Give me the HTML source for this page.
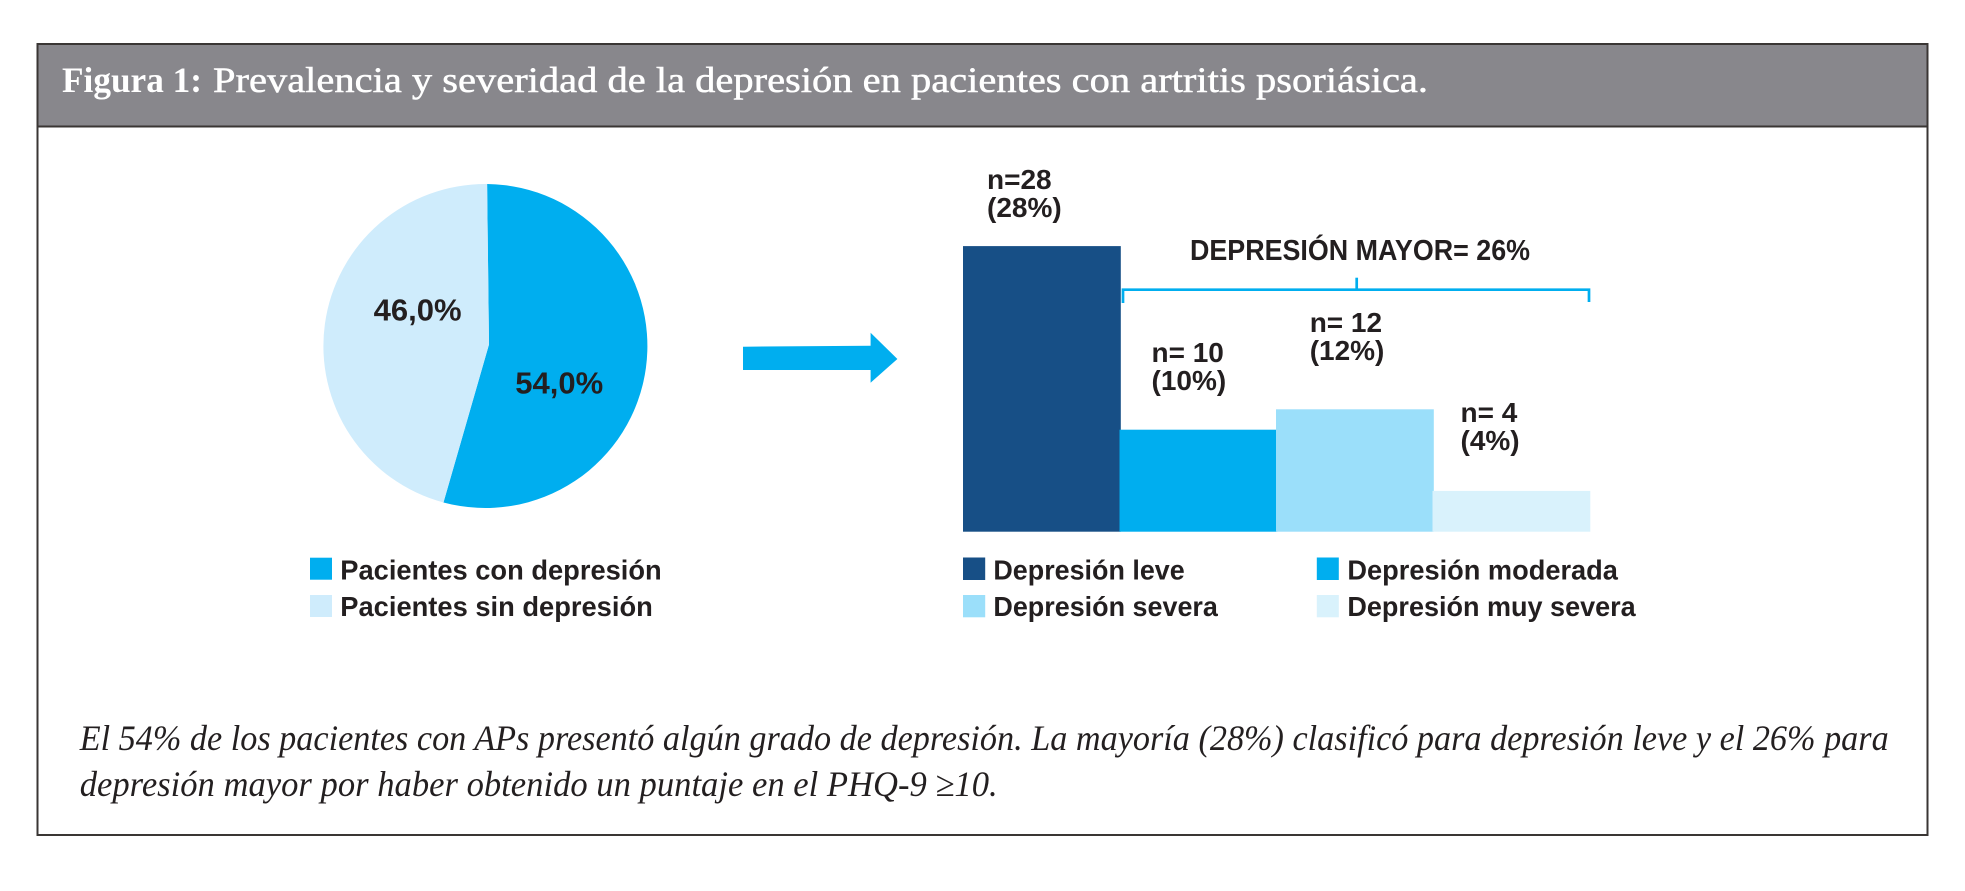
<!DOCTYPE html>
<html lang="es">
<head>
<meta charset="utf-8">
<title>Figura 1</title>
<style>
html,body{margin:0;padding:0;background:#fff;}
svg{display:block;}
.sans{font-family:"Liberation Sans",sans-serif;font-weight:700;fill:#231f20;}
.serif{font-family:"Liberation Serif",serif;}
</style>
</head>
<body>
<svg id="figure" xmlns="http://www.w3.org/2000/svg" width="1965" height="891" viewBox="0 0 1965 891">
  <rect x="37.5" y="44" width="1890" height="791" fill="#fff" stroke="#3a3634" stroke-width="2"/>
  <rect x="37.5" y="44" width="1890" height="82.5" fill="#88878c" stroke="#3a3634" stroke-width="2"/>
  <text class="serif" x="62" y="92" font-size="36" font-weight="700" fill="#fff" textLength="140" lengthAdjust="spacingAndGlyphs">Figura 1:</text>
  <text class="serif" x="213" y="92" font-size="36" fill="#fff" stroke="#fff" stroke-width="0.5" textLength="1215" lengthAdjust="spacingAndGlyphs">Prevalencia y severidad de la depresión en pacientes con artritis psoriásica.</text>

  <g id="pie"></g>
  <polygon points="743,346.7 870.6,345.7 870.6,332.7 897.4,359 870.6,382.7 870.6,370 743,370" fill="#00aeef"/>
  <g id="bars"></g>

  <g fill="none" stroke="#00aeef" stroke-width="2.7">
    <path d="M1123,303 V289.7 H1589 V302"/>
    <path d="M1356.7,277.7 V289.7"/>
  </g>
  <text class="sans" x="1190" y="260" font-size="29" textLength="340" lengthAdjust="spacingAndGlyphs">DEPRESIÓN MAYOR= 26%</text>

  <g>
    <g>
      <rect x="310" y="557.7" width="22" height="22" fill="#00aeef"/>
      <text class="sans" x="340.3" y="579.3" font-size="28" textLength="321.4" lengthAdjust="spacingAndGlyphs">Pacientes con depresión</text>
    </g>
    <g>
      <rect x="310" y="595" width="22" height="22" fill="#cfecfc"/>
      <text class="sans" x="340.3" y="616" font-size="28" textLength="312.5" lengthAdjust="spacingAndGlyphs">Pacientes sin depresión</text>
    </g>
  </g>

  <g>
    <g>
      <rect x="963" y="557.5" width="22.2" height="22.5" fill="#174f86"/>
      <text class="sans" x="993.4" y="579.3" font-size="28" textLength="191.3" lengthAdjust="spacingAndGlyphs">Depresión leve</text>
    </g>
    <g>
      <rect x="1316.8" y="557.5" width="22" height="22.5" fill="#00aeef"/>
      <text class="sans" x="1347.4" y="579.3" font-size="28" textLength="270.5" lengthAdjust="spacingAndGlyphs">Depresión moderada</text>
    </g>
    <g>
      <rect x="963" y="595" width="22.2" height="22.3" fill="#9bdffa"/>
      <text class="sans" x="993.4" y="616" font-size="28" textLength="224.5" lengthAdjust="spacingAndGlyphs">Depresión severa</text>
    </g>
    <g>
      <rect x="1316.8" y="595" width="22" height="22.3" fill="#d9f2fc"/>
      <text class="sans" x="1347.4" y="616" font-size="28" textLength="288.3" lengthAdjust="spacingAndGlyphs">Depresión muy severa</text>
    </g>
  </g>

  <text class="serif" x="79.7" y="750" font-size="36" font-style="italic" fill="#231f20" textLength="1809" lengthAdjust="spacingAndGlyphs">El 54% de los pacientes con APs presentó algún grado de depresión. La mayoría (28%) clasificó para depresión leve y el 26% para</text>
  <text class="serif" x="79.7" y="796" font-size="36" font-style="italic" fill="#231f20" textLength="918" lengthAdjust="spacingAndGlyphs">depresión mayor por haber obtenido un puntaje en el PHQ-9 ≥10.</text>
</svg>

<script>
// Pie data
const pieCategories = ['con-depresion', 'sin-depresion'];
const pieValues = [54, 46];
const pieColors = ['#00aeef', '#cfecfc'];

// Bar data
const barCategories = ['leve', 'moderada', 'severa', 'muy-severa'];
const barCounts = [28, 10, 12, 4];
const barPercents = [28, 10, 12, 4];
const barColors = ['#174f86', '#00aeef', '#9bdffa', '#d9f2fc'];

// Hand placement of labels relative to their computed anchor (layout only)
const pieLabelNudge = [{dx: 0, dy: 37.4}, {dx: 6, dy: -15.4}];
const barLabelNudge = [{dx: 24, gap: 29.1}, {dx: 32, gap: 39.7}, {dx: 33.7, gap: 49.3}, {dx: 28, gap: 40.9}];

const SVGNS = 'http://www.w3.org/2000/svg';

// Pie geometry
const pieCx = 485.4, pieCy = 346, pieR = 162;
const apexX = 489, apexY = 344.5;
const pieRotation = 0.6;
const pieTotal = pieValues.reduce(function (a, b) { return a + b; }, 0);
function angleOf(cum) { return (pieRotation + cum / pieTotal * 360) * Math.PI / 180; }
function rimX(a) { return pieCx + pieR * Math.sin(a); }
function rimY(a) { return pieCy - pieR * Math.cos(a); }

const pieGroup = document.getElementById('pie');
let cumulative = 0;
pieValues.forEach(function (v, i) {
  const a0 = angleOf(cumulative);
  const a1 = angleOf(cumulative + v);
  const large = (a1 - a0) > Math.PI ? 1 : 0;
  const slice = document.createElementNS(SVGNS, 'path');
  
  
  slice.setAttribute('d', 'M' + apexX + ',' + apexY + ' L' + rimX(a0) + ',' + rimY(a0) +
    ' A' + pieR + ',' + pieR + ' 0 ' + large + ' 1 ' + rimX(a1) + ',' + rimY(a1) + ' Z');
  slice.setAttribute('fill', pieColors[i]);
  pieGroup.appendChild(slice);
  cumulative += v;
});
cumulative = 0;
pieValues.forEach(function (v, i) {
  const mid = angleOf(cumulative + v / 2);
  const label = document.createElementNS(SVGNS, 'text');
  
  
  label.setAttribute('class', 'sans');
  label.setAttribute('font-size', '31');
  label.setAttribute('text-anchor', 'middle');
  label.setAttribute('x', pieCx + pieR * 0.46 * Math.sin(mid) + pieLabelNudge[i].dx);
  label.setAttribute('y', pieCy - pieR * 0.46 * Math.cos(mid) + pieLabelNudge[i].dy);
  label.textContent = v.toFixed(1).replace('.', ',') + '%';
  pieGroup.appendChild(label);
  cumulative += v;
});

// Bar axis functions
const barBaseY = 531.7, barPxPerUnit = 10.2;
const barStartX = 963, barStep = 156.5, barWidth = 157.8;
function barX(i) { return barStartX + i * barStep; }
function barY(v) { return barBaseY - v * barPxPerUnit; }

const barGroup = document.getElementById('bars');
barPercents.forEach(function (v, i) {
  const bar = document.createElementNS(SVGNS, 'rect');
  
  
  bar.setAttribute('x', barX(i));
  bar.setAttribute('y', barY(v));
  bar.setAttribute('width', barWidth);
  bar.setAttribute('height', barBaseY - barY(v));
  bar.setAttribute('fill', barColors[i]);
  barGroup.appendChild(bar);
});
barPercents.forEach(function (v, i) {
  const labelX = barX(i) + barLabelNudge[i].dx;
  const labelY = barY(v) - barLabelNudge[i].gap;

  const countLabel = document.createElementNS(SVGNS, 'text');
  
  
  countLabel.setAttribute('class', 'sans');
  countLabel.setAttribute('font-size', '28');
  countLabel.setAttribute('x', labelX);
  countLabel.setAttribute('y', labelY - 28.2);
  countLabel.textContent = (i === 0 ? 'n=' : 'n= ') + barCounts[i];
  barGroup.appendChild(countLabel);

  const percentLabel = document.createElementNS(SVGNS, 'text');
  
  
  percentLabel.setAttribute('class', 'sans');
  percentLabel.setAttribute('font-size', '28');
  percentLabel.setAttribute('x', labelX);
  percentLabel.setAttribute('y', labelY);
  percentLabel.textContent = '(' + v + '%)';
  barGroup.appendChild(percentLabel);
});
</script>
</body>
</html>
